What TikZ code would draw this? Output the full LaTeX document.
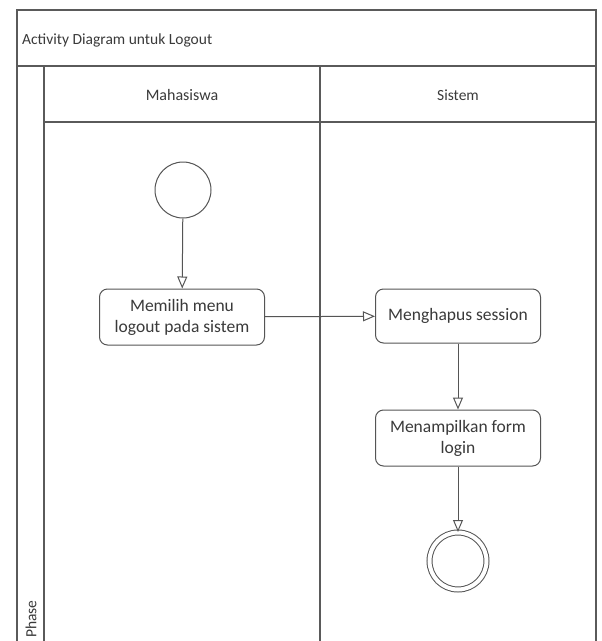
\documentclass[tikz,border=0pt]{standalone}
\usepackage{fontspec}
\setmainfont{Carlito}
\usetikzlibrary{arrows.meta}
\definecolor{frameline}{HTML}{5A5A5A}
\definecolor{boxline}{HTML}{555555}
\definecolor{inktext}{HTML}{3A3A3A}
\begin{document}
\begin{tikzpicture}[x=1pt,y=-1pt,
  lane/.style={draw=frameline,line width=1.3pt},
  action/.style={draw=boxline,line width=1pt,rounded corners=8pt,fill=white,
    minimum width=165pt,minimum height=56pt,align=center,text=inktext,
    font=\fontsize{17.5}{21}\selectfont,inner sep=2pt},
  startnode/.style={draw=boxline,line width=1pt,circle,minimum size=56pt,inner sep=0pt},
  endnode/.style={draw=boxline,line width=1pt,circle,minimum size=57pt,inner sep=0pt,
    double=white,double distance=4pt},
  flow/.style={draw=boxline,line width=1pt,-{Triangle[open,length=12pt,width=10pt]}},
  headtext/.style={text=inktext,font=\fontsize{15.5}{18}\selectfont,inner sep=0pt}
]
\clip (0,0) rectangle (602,641);
\fill[white] (0,0) rectangle (602,641);

% swimlane frame
\draw[lane] (17,650) -- (17,10) -- (596,10) -- (596,650);
\draw[lane] (17,66) -- (596,66);
\draw[lane] (44,66) -- (44,650);
\draw[lane] (44,122) -- (596,122);
\draw[lane] (320,66) -- (320,650);

% titles
\node[headtext,anchor=west] (title) at (22,40) {Activity Diagram untuk Logout};
\node[headtext,font=\fontsize{16}{18}\selectfont] (laneA) at (182,95) {Mahasiswa};
\node[headtext] (laneB) at (458,95) {Sistem};
\node[headtext,rotate=90,anchor=west] (phase) at (31,638) {Phase};

% activity nodes
\node[startnode] (start) at (183,190) {};
\node[action] (pilih) at (182,317) {Memilih menu\\logout pada sistem};
\node[action,minimum height=54pt] (hapus) at (458,316) {Menghapus session};
\node[action] (tampil) at (458,438) {Menampilkan form\\login};
\node[endnode] (stop) at (458,561) {};

% control flow
\draw[flow] (start) -- (pilih);
\draw[flow] (pilih) -- (hapus);
\draw[flow] (hapus) -- (tampil);
\draw[flow] (tampil) -- (stop);
\end{tikzpicture}
\end{document}
